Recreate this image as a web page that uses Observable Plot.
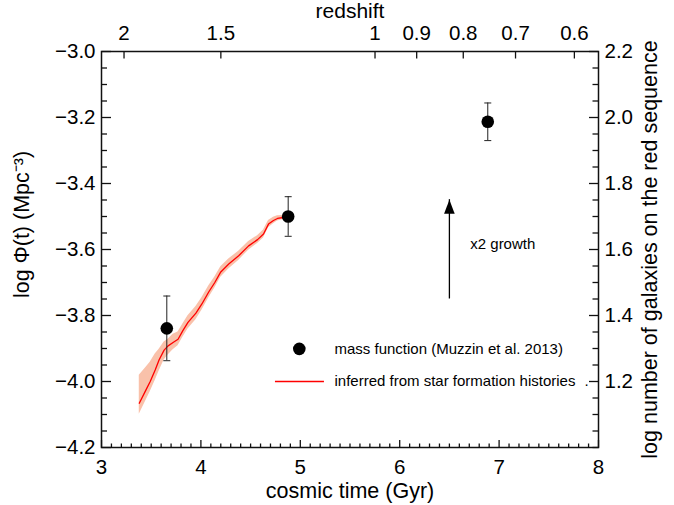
<!DOCTYPE html>
<html><head><meta charset="utf-8">
<script src="https://cdn.jsdelivr.net/npm/d3@7"></script>
<script src="https://cdn.jsdelivr.net/npm/@observablehq/plot@0.6"></script>
<style>body{margin:0;background:#fff}</style>
</head><body><div id="chart"></div>
<script>
// Mass-function measurements (Muzzin et al. 2013)
const massTime = [3.657, 4.878, 6.886];
const massLogPhi = [-3.839, -3.500, -3.213];
const massErr = [0.098, 0.060, 0.057];

// Inferred from star formation histories: central curve and band
const sfhTime = [3.38, 3.44, 3.49, 3.54, 3.58, 3.63, 3.67, 3.72, 3.77, 3.82, 3.87, 3.95, 4.01, 4.08, 4.14, 4.20, 4.28, 4.38, 4.48, 4.57, 4.63, 4.68, 4.73, 4.77, 4.83];
const sfhMid = [-4.066, -4.030, -4.000, -3.965, -3.934, -3.905, -3.892, -3.882, -3.872, -3.845, -3.821, -3.793, -3.765, -3.728, -3.700, -3.668, -3.644, -3.619, -3.589, -3.570, -3.553, -3.523, -3.512, -3.506, -3.503];
const sfhHi = [-3.981, -3.960, -3.942, -3.917, -3.902, -3.880, -3.872, -3.857, -3.850, -3.825, -3.801, -3.773, -3.746, -3.710, -3.683, -3.652, -3.629, -3.605, -3.576, -3.558, -3.541, -3.512, -3.502, -3.498, -3.497];
const sfhLo = [-4.099, -4.062, -4.031, -3.997, -3.968, -3.935, -3.920, -3.904, -3.892, -3.865, -3.841, -3.813, -3.784, -3.746, -3.717, -3.684, -3.659, -3.633, -3.602, -3.582, -3.565, -3.534, -3.522, -3.514, -3.509];

// x2 growth arrow
const arrowTime = [6.5];
const arrowStart = [-3.75];
const growthFactor = 2;

// Tick labels
const timeTicks = [3, 4, 5, 6, 7, 8];
const redshiftTicks = [2, 1.5, 1, 0.9, 0.8, 0.7, 0.6];
const redshiftLabels = ["2", "1.5", "1", "0.9", "0.8", "0.7", "0.6"];
const logPhiTicks = [-3.0, -3.2, -3.4, -3.6, -3.8, -4.0, -4.2];
const logNTicks = [2.2, 2.0, 1.8, 1.6, 1.4, 1.2];
const logNOffset = 5.2; // log N = log Phi + offset

// cosmic time (Gyr) of a redshift, flat LCDM H0=70, Om=0.3
function ageGyr(z) {
  const H0 = 70, Om = 0.3, OL = 0.7;
  const hubbleTime = 977.8 / H0;
  return 2 / (3 * Math.sqrt(OL)) * hubbleTime * Math.asinh(Math.sqrt(OL / Om) * Math.pow(1 + z, -1.5));
}
const redshiftTimes = redshiftTicks.map(ageGyr);

const mass = massTime.map((t, i) => ({t, y: massLogPhi[i], e: massErr[i]}));
const sfh = sfhTime.map((t, i) => ({t, mid: sfhMid[i], hi: sfhHi[i], lo: sfhLo[i]}));
const arrow = arrowTime.map((t, i) => ({t, y1: arrowStart[i], y2: arrowStart[i] + Math.log10(growthFactor)}));

const W = 674, H = 505, ML = 101, MR = 76, MT = 51, MB = 58;
const xDomain = [3, 8], yDomain = [-4.2, -3.0];

const minorX = d3.range(30, 81).map(d => d / 10).filter(d => !timeTicks.includes(d));
const minorY = d3.range(-84, -59).map(d => d / 20);
const minorLeft = minorY.filter(d => !logPhiTicks.some(v => Math.abs(v - d) < 1e-9));
const rightMajor = logNTicks.map(v => v - logNOffset);
const minorRight = minorY.filter(d => !rightMajor.some(v => Math.abs(v - d) < 1e-9));

const segSym = (x1, y1, x2, y2) => ({draw(ctx) { ctx.moveTo(x1, y1); ctx.lineTo(x2, y2); }});
const capSymbol = segSym(-3.5, 0, 3.5, 0);
const headSymbol = {draw(ctx) { ctx.moveTo(0, 0); ctx.lineTo(5.3, 14); ctx.lineTo(-5.3, 14); ctx.closePath(); }};
const fmtMinus = d => (d < 0 ? "\u2212" : "") + Math.abs(d).toFixed(1);
const zLabel = t => redshiftLabels[redshiftTimes.findIndex(v => Math.abs(v - t) < 1e-9)];

const F = "'Liberation Sans', Arial, Helvetica, sans-serif";
const AX = "#111111";
const X0 = xDomain[0], X1 = xDomain[1], Y0 = yDomain[0], Y1 = yDomain[1];
// inward ticks: a short line symbol placed on the frame edge
const tickDots = (vals, side, sym) => Plot.dot(
  vals.map(v => side === "bottom" ? {x: v, y: Y0} : side === "top" ? {x: v, y: Y1} : side === "left" ? {x: X0, y: v} : {x: X1, y: v}),
  {x: "x", y: "y", symbol: sym, stroke: AX, fill: "none", strokeWidth: 1.3});

const chart = Plot.plot({
  width: W,
  height: H,
  marginLeft: ML,
  marginRight: MR,
  marginTop: MT,
  marginBottom: MB,
  style: {fontFamily: F, background: "white", color: "black"},
  x: {domain: xDomain, label: null},
  y: {domain: yDomain, label: null},
  marks: [
    Plot.areaY(sfh, {x: "t", y1: "lo", y2: "hi", fill: "#f9c1aa", fillOpacity: 1}),
    Plot.line(sfh, {x: "t", y: "mid", stroke: "#ff0000", strokeWidth: 1.3}),
    Plot.ruleX(mass, {x: "t", y1: d => d.y - d.e, y2: d => d.y + d.e, stroke: "#222", strokeWidth: 1}),
    Plot.dot(mass, {x: "t", y: d => d.y - d.e, symbol: capSymbol, stroke: "#222", fill: "none", strokeWidth: 1}),
    Plot.dot(mass, {x: "t", y: d => d.y + d.e, symbol: capSymbol, stroke: "#222", fill: "none", strokeWidth: 1}),
    Plot.dot(mass, {x: "t", y: "y", r: 6.3, fill: "black", stroke: "none"}),
    // growth arrow
    Plot.ruleX(arrow, {x: "t", y1: "y1", y2: "y2", stroke: "black", strokeWidth: 1.3}),
    Plot.dot(arrow, {x: "t", y: "y2", symbol: headSymbol, fill: "black", stroke: "none"}),
    Plot.text(["x2 growth"], {x: 6.71, y: -3.583, text: d => d, textAnchor: "start", fontSize: 15}),
    // legend
    Plot.dot([0], {x: 4.99, y: -3.901, r: 6.3, fill: "black", stroke: "none"}),
    Plot.text(["mass function (Muzzin et al. 2013)"], {x: 5.344, y: -3.901, text: d => d, textAnchor: "start", fontSize: 15}),
    Plot.ruleY([-4.0], {x1: 4.75, x2: 5.243, stroke: "#ff0000", strokeWidth: 1.3}),
    Plot.text(["inferred from star formation histories"], {x: 5.344, y: -4.0, text: d => d, textAnchor: "start", fontSize: 15}),
    Plot.text(["."], {x: 7.88, y: -4.0, text: d => d, fontSize: 15}),
    // axis tick labels
    Plot.axisX(timeTicks, {anchor: "bottom", tickSize: 0, tickPadding: 12, fontSize: 20.5, tickFormat: d => String(d), label: null}),
    Plot.axisX(redshiftTimes, {anchor: "top", tickSize: 0, tickPadding: 12, fontSize: 20.5, tickFormat: zLabel, label: null}),
    Plot.axisY(logPhiTicks, {anchor: "left", tickSize: 0, tickPadding: 6, fontSize: 20.5, tickFormat: fmtMinus, label: null}),
    Plot.axisY(rightMajor, {anchor: "right", tickSize: 0, tickPadding: 6, fontSize: 20.5, tickFormat: d => (d + logNOffset).toFixed(1), label: null}),
    Plot.frame({stroke: AX, strokeWidth: 1.5, fill: "none"}),
    tickDots(timeTicks, "bottom", segSym(0, 0, 0, -7.5)),
    tickDots(minorX, "bottom", segSym(0, 0, 0, -4)),
    tickDots(redshiftTimes, "top", segSym(0, 0, 0, 7)),
    tickDots(logPhiTicks, "left", segSym(0, 0, 9.5, 0)),
    tickDots(minorLeft, "left", segSym(0, 0, 5.5, 0)),
    tickDots(rightMajor, "right", segSym(0, 0, -9.5, 0)),
    tickDots(minorRight, "right", segSym(0, 0, -6, 0)),
    // axis titles
    Plot.text(["cosmic time (Gyr)"], {frameAnchor: "bottom", dy: 50, text: d => d, fontSize: 21.5}),
    Plot.text(["redshift"], {frameAnchor: "top", dy: -48, text: d => d, fontSize: 21}),
    Plot.text(["log \u03A6(t) (Mpc\u207B\u00B3)"], {frameAnchor: "left", dx: -79, dy: -25, rotate: -90, textAnchor: "middle", text: d => d, fontSize: 21.5}),
    Plot.text(["log number of galaxies on the red sequence"], {frameAnchor: "right", dx: 52, rotate: -90, textAnchor: "middle", text: d => d, fontSize: 21.5})
  ]
});
document.getElementById("chart").appendChild(chart);
</script>
</body></html>
